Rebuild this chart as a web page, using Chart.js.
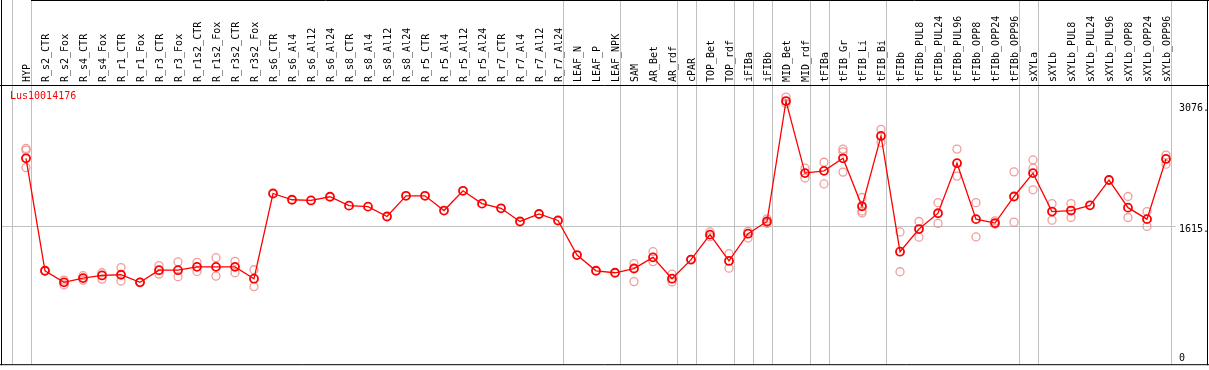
<!DOCTYPE html>
<html>
<head>
<meta charset="utf-8">
<script src="https://cdn.jsdelivr.net/npm/chart.js@4/dist/chart.umd.min.js"></script>
<style>
html,body{margin:0;padding:0;background:#fff;}
canvas{display:block;}
</style>
</head>
<body>
<canvas id="c" width="1209" height="370"></canvas>
<script>
const categories = ["HYP","R_s2_CTR","R_s2_Fox","R_s4_CTR","R_s4_Fox","R_r1_CTR","R_r1_Fox","R_r3_CTR","R_r3_Fox","R_r1s2_CTR","R_r1s2_Fox","R_r3s2_CTR","R_r3s2_Fox","R_s6_CTR","R_s6_Al4","R_s6_Al12","R_s6_Al24","R_s8_CTR","R_s8_Al4","R_s8_Al12","R_s8_Al24","R_r5_CTR","R_r5_Al4","R_r5_Al12","R_r5_Al24","R_r7_CTR","R_r7_Al4","R_r7_Al12","R_r7_Al24","LEAF_N","LEAF_P","LEAF_NPK","SAM","AR_Bet","AR_rdf","cPAR","TOP_Bet","TOP_rdf","iFIBa","iFIBb","MID_Bet","MID_rdf","tFIBa","tFIB_Gr","tFIB_Li","tFIB_Bi","tFIBb","tFIBb_PUL8","tFIBb_PUL24","tFIBb_PUL96","tFIBb_OPP8","tFIBb_OPP24","tFIBb_OPP96","sXYLa","sXYLb","sXYLb_PUL8","sXYLb_PUL24","sXYLb_PUL96","sXYLb_OPP8","sXYLb_OPP24","sXYLb_OPP96"];

const meanValues = [2433,1082,943,994,1026,1034,943,1089,1089,1129,1129,1129,987,2010,1935,1927,1971,1864,1852,1734,1982,1982,1805,2042,1888,1832,1674,1764,1686,1271,1082,1058,1109,1243,987,1216,1516,1200,1527,1674,3120,2255,2282,2433,1856,2701,1311,1583,1773,2374,1702,1655,1974,2255,1793,1805,1868,2172,1840,1702,2425];

const rep1 = [2551,1082,970,1023,1058,1121,943,1145,1189,1184,1239,1196,1094,null,null,null,null,null,null,null,null,null,null,null,null,null,null,null,null,null,null,null,1168,1311,1042,1216,1548,1287,1556,1705,3167,2314,2385,2543,1962,2780,1548,1674,1900,2543,1900,1681,2270,2413,1888,1888,null,null,1974,1793,2472];
const rep2 = [2531,1082,911,970,982,959,943,1042,1011,1074,1018,1058,892,null,null,null,null,null,null,null,null,null,null,null,null,null,null,null,null,null,null,null,952,1192,947,1216,1490,1113,1476,1650,3090,2196,2125,2511,1800,2622,1070,1485,1651,2219,1488,1640,1666,2314,1690,1722,null,null,1722,1615,2362];
const rep3 = [2321,null,null,null,null,null,null,null,null,null,null,null,null,null,null,null,null,null,null,null,null,null,null,null,null,null,null,null,null,null,null,null,null,null,null,null,null,null,null,null,null,null,null,2267,1776,null,null,null,null,null,null,null,null,2054,null,null,null,null,null,null,null];

const yTickValues = [0, 1615, 3076];
const yTickLabels = ["0", "1615.", "3076."];
const gridValue = 1615;
const groupEnds = [-1, 0, 28, 31, 34, 35, 37, 38, 39, 41, 42, 45, 52, 53, 60];
const titleText = "Lus10014176";

const MONO = "'DejaVu Sans Mono', 'Liberation Mono', monospace";

const framePlugin = {
  id: 'frame',
  beforeDraw(chart) {
    const ctx = chart.ctx;
    ctx.save();
    ctx.fillStyle = '#fff';
    ctx.fillRect(0, 0, chart.width, chart.height);
    ctx.restore();
  },
  beforeDatasetsDraw(chart) {
    const ctx = chart.ctx;
    const xs = chart.scales.x, ys = chart.scales.y;
    const ca = chart.chartArea;
    ctx.save();
    ctx.strokeStyle = '#c0c0c0';
    ctx.lineWidth = 1;
    groupEnds.forEach(i => {
      const x = Math.round(xs.getPixelForValue(i) + 4.5) + 0.5;
      ctx.beginPath();
      ctx.moveTo(x, 0);
      ctx.lineTo(x, ca.bottom);
      ctx.stroke();
    });
    const gy = Math.round(ys.getPixelForValue(gridValue)) + 0.5;
    const rx = Math.round(xs.getPixelForValue(groupEnds[groupEnds.length - 1]) + 4.5) + 0.5;
    ctx.beginPath();
    ctx.moveTo(1, gy);
    ctx.lineTo(rx + 4, gy);
    ctx.stroke();
    ctx.fillStyle = '#ff0000';
    ctx.font = "10px " + MONO;
    ctx.textAlign = 'left';
    ctx.textBaseline = 'top';
    ctx.fillText(titleText, 10, ca.top + 6);
    ctx.fillStyle = '#000';
    yTickValues.forEach((v, k) => {
      let y = ys.getPixelForValue(v) - 1.5;
      y = Math.min(y, ca.bottom - 10.5);
      ctx.fillText(yTickLabels[k], ca.right + 3.5, y);
    });
    ctx.restore();
  },
  afterDraw(chart) {
    const ctx = chart.ctx;
    const ca = chart.chartArea;
    const xs = chart.scales.x;
    ctx.save();
    ctx.strokeStyle = '#000';
    ctx.lineWidth = 1;
    const W = chart.width;
    const topStart = Math.round(xs.getPixelForValue(groupEnds[1]) + 4.5);
    ctx.beginPath();
    ctx.moveTo(1.5, 0); ctx.lineTo(1.5, ca.bottom + 1);
    ctx.moveTo(W - 1.5, 0); ctx.lineTo(W - 1.5, ca.bottom + 1);
    ctx.moveTo(0, ca.bottom + 0.5); ctx.lineTo(W, ca.bottom + 0.5);
    ctx.moveTo(0, ca.top + 0.5); ctx.lineTo(W, ca.top + 0.5);
    ctx.moveTo(topStart, 0.5); ctx.lineTo(W, 0.5);
    ctx.stroke();
    ctx.restore();
  }
};

const repStyle = {
  showLine: false,
  borderColor: 'rgba(236,140,140,0.85)',
  pointBorderColor: 'rgba(236,140,140,0.85)',
  pointBackgroundColor: 'rgba(0,0,0,0)',
  pointRadius: 4,
  pointBorderWidth: 1.3,
  pointHoverRadius: 4
};

new Chart(document.getElementById('c'), {
  type: 'line',
  data: {
    labels: categories,
    datasets: [
      {
        data: meanValues,
        borderColor: '#ff0000',
        borderWidth: 1.3,
        tension: 0,
        pointRadius: 4,
        pointBorderWidth: 1.8,
        pointBorderColor: '#ff0000',
        pointBackgroundColor: 'rgba(0,0,0,0)',
        pointHoverRadius: 4
      },
      Object.assign({ data: rep1 }, repStyle),
      Object.assign({ data: rep2 }, repStyle),
      Object.assign({ data: rep3 }, repStyle)
    ]
  },
  options: {
    responsive: false,
    animation: false,
    devicePixelRatio: 1,
    layout: { padding: { left: 16.5, right: 33.5, top: 0, bottom: 2 } },
    plugins: { legend: { display: false }, tooltip: { enabled: false }, title: { display: false } },
    scales: {
      x: {
        type: 'category',
        position: 'top',
        offset: true,
        grid: { display: false, drawTicks: false },
        border: { display: false },
        ticks: {
          autoSkip: false,
          maxRotation: 90,
          minRotation: 90,
          padding: 3,
          labelOffset: 13,
          color: '#000',
          font: { family: MONO, size: 10 }
        },
        afterFit(scale) { scale.height = 85; }
      },
      y: {
        display: false,
        min: -40,
        max: 3313
      }
    }
  },
  plugins: [framePlugin]
});
</script>
</body>
</html>
